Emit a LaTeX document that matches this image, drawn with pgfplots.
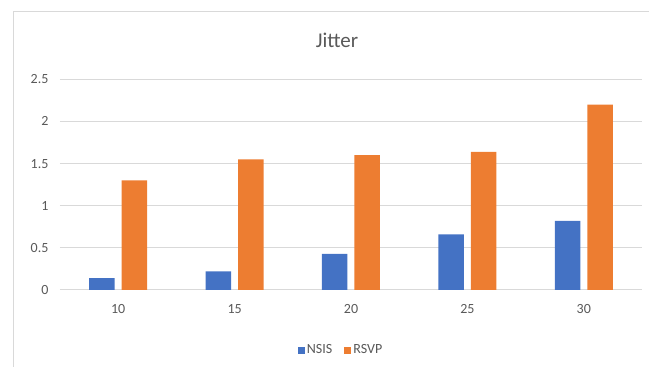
\documentclass[border=0pt]{standalone}
\usepackage{pgfplots}
\pgfplotsset{compat=1.18}
\usepackage{fontspec}
\setmainfont{Carlito}
\definecolor{nsis}{HTML}{4472C4}
\definecolor{rsvp}{HTML}{ED7D31}
\definecolor{txt}{HTML}{595959}
\definecolor{gridc}{HTML}{D9D9D9}
\begin{document}
\begin{tikzpicture}[x=1pt,y=1pt]
\useasboundingbox (0,0) rectangle (649,367);
\draw[gridc, line width=1pt] (13,0) -- (13,355) -- (649,355);
\node[txt, font=\fontsize{21}{24}\selectfont] at (337,327) {Jitter};
\begin{axis}[
  at={(60pt,77pt)}, anchor=south west,
  scale only axis, width=582pt, height=210.7pt,
  ybar=7pt, bar width=25.5pt,
  xmin=-0.5, xmax=4.5, ymin=0, ymax=2.5,
  xtick={0,1,2,3,4}, xticklabels={10,15,20,25,30},
  ytick={0,0.5,1,1.5,2,2.5},
  ymajorgrids, grid style={gridc, line width=1pt},
  axis line style={draw=none}, major tick length=0pt,
  tick label style={txt, font=\fontsize{14}{16}\selectfont},
  xticklabel style={yshift=-11pt},
  yticklabel style={xshift=-8pt},
  /pgf/number format/assume math mode=true,
  legend style={at={(0.483,-0.285)}, anchor=center, draw=none,
    font=\fontsize{14}{16}\selectfont, text=txt,
    /tikz/every even column/.append style={column sep=10pt}},
  legend columns=2,
]
\addplot[fill=nsis, draw=none, legend image code/.code={\fill[nsis] (0pt,-3.5pt) rectangle (7pt,3.5pt);}]
  coordinates {(0,0.14) (1,0.22) (2,0.43) (3,0.66) (4,0.82)};
\addplot[fill=rsvp, draw=none, legend image code/.code={\fill[rsvp] (0pt,-3.5pt) rectangle (7pt,3.5pt);}]
  coordinates {(0,1.30) (1,1.55) (2,1.60) (3,1.64) (4,2.20)};
\legend{NSIS,RSVP}
\end{axis}
\end{tikzpicture}
\end{document}
